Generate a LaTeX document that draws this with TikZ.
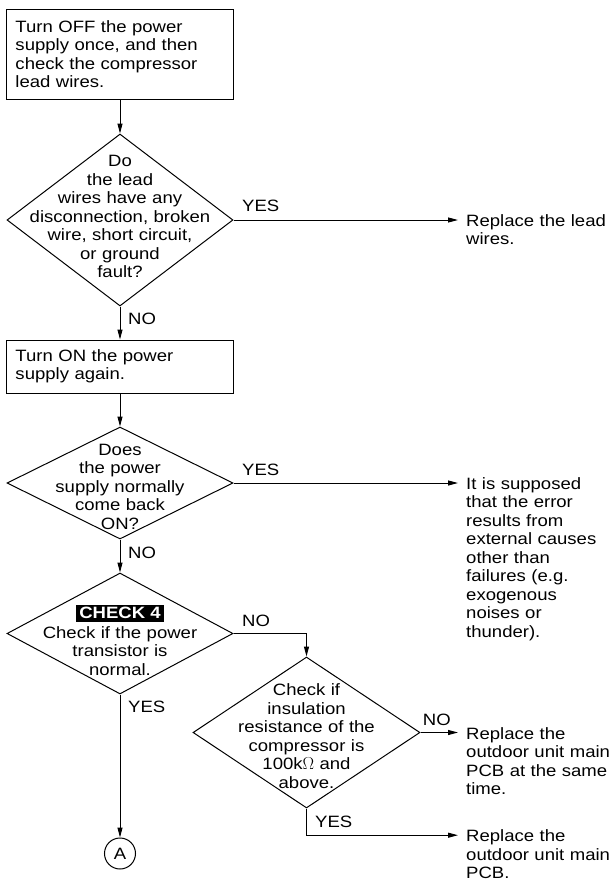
\documentclass[tikz,border=0pt]{standalone}
\usepackage{fontspec}
\setmainfont{Liberation Sans}[FakeStretch=1.13]
\usetikzlibrary{shapes.geometric,arrows.meta}

\tikzset{
  txt/.style={font=\fontsize{16.4pt}{18.5pt}\selectfont, inner sep=0pt},
  stepbox/.style={txt, draw, rectangle, line width=1pt, minimum width=227pt, text width=209pt, align=left, inner xsep=9pt},
  decision/.style={draw, diamond, line width=1pt, inner sep=0pt},
  qtext/.style={txt, text width=220pt, align=center, anchor=base},
  result/.style={txt, text width=146pt, align=left, anchor=base west},
  lbl/.style={txt, anchor=base west},
  flow/.style={line width=1pt, -{Triangle[length=10pt,width=5pt]}},
}

\begin{document}
\begin{tikzpicture}[x=1pt, y=-1pt]

\useasboundingbox (0,0) rectangle (612,881);

% Right-hand column of results
\def\RX{466}

% Steps
\node[stepbox, minimum height=90pt] (b1) at (120,54) {Turn OFF the power\\supply once, and then\\check the compressor\\lead wires.};
\node[stepbox, minimum height=53pt] (b2) at (120,366.5) {Turn ON the power\\supply again.};

% Decisions
\node[decision, minimum width=226pt, minimum height=172pt] (q1) at (120,220) {};
\node[qtext] (q1t) at (120,166.8) {Do\\the lead\\wires have any\\disconnection, broken\\wire, short circuit,\\or ground\\fault?};

\node[decision, minimum width=226pt, minimum height=112pt] (q2) at (120,483) {};
\node[qtext] (q2t) at (120,455) {Does\\the power\\supply normally\\come back\\ON?};

\node[decision, minimum width=226pt, minimum height=121pt] (q3) at (120,633.5) {};
\node[txt, fill=black, text=white, font=\fontsize{16.4pt}{18.5pt}\selectfont\bfseries, inner xsep=3pt, inner ysep=2.7pt] (q3tag) at (120,613) {CHECK 4};
\node[qtext] (q3t) at (120,638) {Check if the power\\transistor is\\normal.};

\node[decision, minimum width=227pt, minimum height=151pt] (q4) at (306.5,732.5) {};
\node[qtext] (q4t) at (306.5,695.7) {Check if\\insulation\\resistance of the\\compressor is\\100k$\Omega$ and\\above.};

% Off-page connector
\node[txt, draw, circle, line width=1pt, minimum size=31pt] (endA) at (120,853.5) {A};

% Results
\node[result] (r1) at (\RX,226) {Replace the lead\\wires.};
\node[result] (r2) at (\RX,489.3) {It is supposed\\that the error\\results from\\external causes\\other than\\failures (e.g.\\exogenous\\noises or\\thunder).};
\node[result] (r3) at (\RX,739.3) {Replace the\\outdoor unit main\\PCB at the same\\time.};
\node[result] (r4) at (\RX,841.7) {Replace the\\outdoor unit main\\PCB.};

% Main line
\draw[flow] (b1.south) -- (q1.north);
\draw[flow] (q1.south) -- (b2.north);
\draw[flow] (b2.south) -- (q2.north);
\draw[flow] (q2.south) -- (q3.north);
\draw[flow] (q3.south) -- (endA.north);

% Branches
\draw[flow] (q1.east) -- ([xshift=-8pt]r1.base west |- q1.east);
\draw[flow] (q2.east) -- ([xshift=-8pt]r2.base west |- q2.east);
\draw[flow] (q3.east) -| (q4.north);
\draw[flow] (q4.east) -- ([xshift=-8pt]r3.base west |- q4.east);
\draw[flow] (q4.south) |- ([xshift=-8pt,yshift=6.5pt]r4.base west);

% Labels
\node[lbl] (yes1) at (242,211) {YES};
\node[lbl] (no1) at (128,324) {NO};
\node[lbl] (yes2) at (242,475) {YES};
\node[lbl] (no2) at (128,558) {NO};
\node[lbl] (no3) at (242,626) {NO};
\node[lbl] (yes3) at (128,712.7) {YES};
\node[lbl] (no4) at (422.7,725.7) {NO};
\node[lbl] (yes4) at (315,827.7) {YES};

\end{tikzpicture}
\end{document}
